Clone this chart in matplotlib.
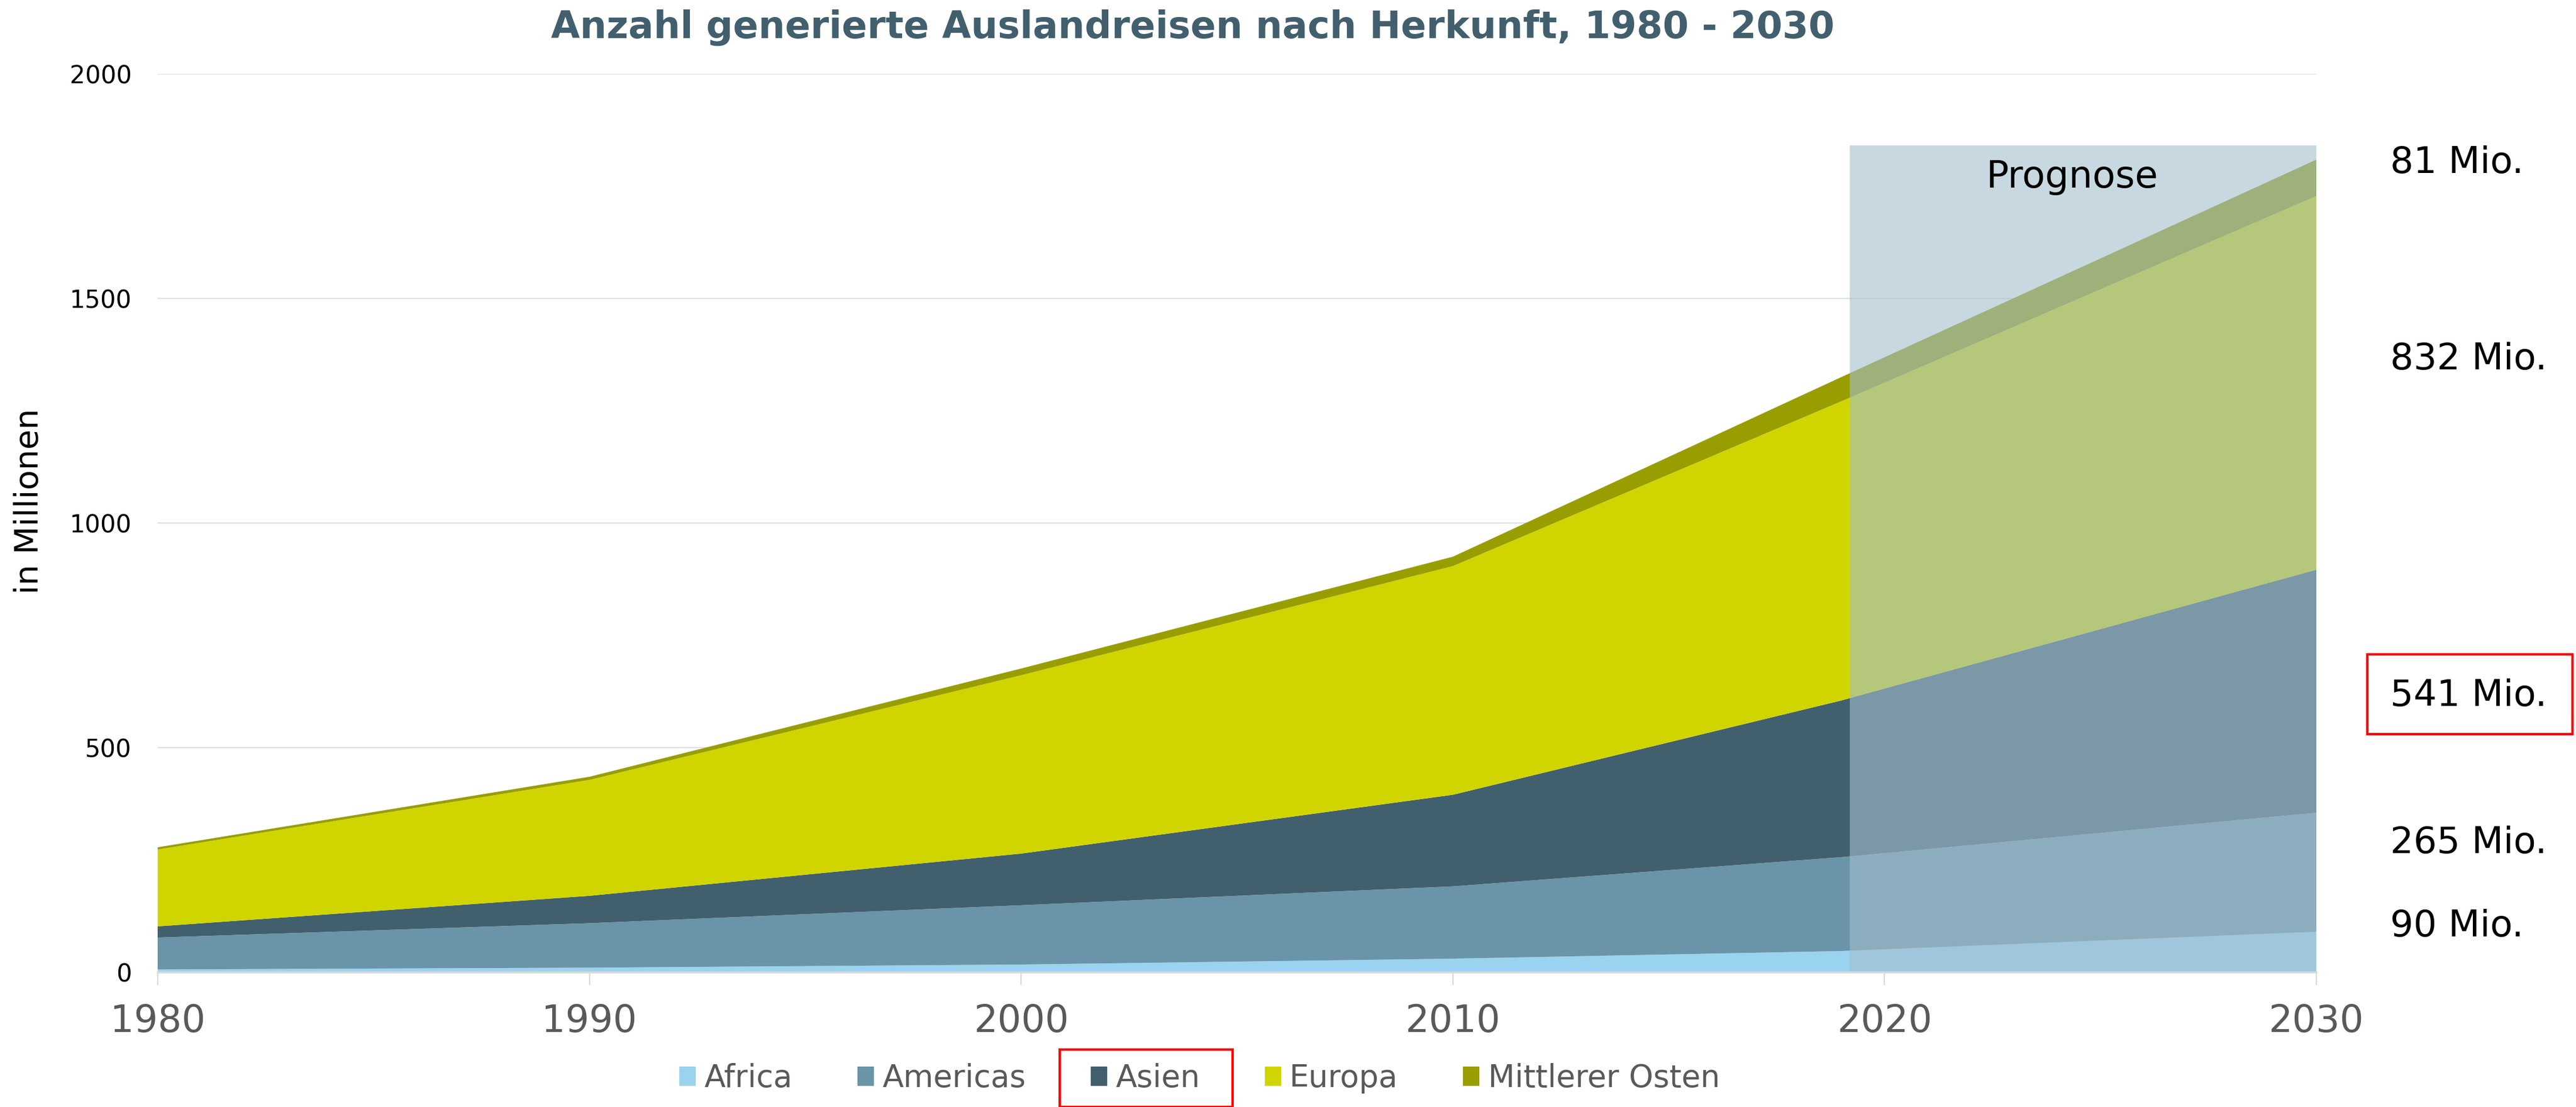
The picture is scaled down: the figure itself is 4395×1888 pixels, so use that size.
import numpy as np
import matplotlib
matplotlib.use("Agg")
import matplotlib.pyplot as plt
from matplotlib.patches import Rectangle, Patch

# data (millions of outbound trips)
years = [1980, 1990, 2000, 2010, 2019, 2030]
africa = [6, 10, 17, 30, 47, 90]
americas = [71, 99, 132, 161, 209, 265]
asien = [25, 61, 115, 204, 349, 541]
europa = [171, 258, 397, 509, 666, 832]
mittlerer_osten = [5, 7, 15, 21, 54, 81]

series_names = ["Africa", "Americas", "Asien", "Europa", "Mittlerer Osten"]
colors = ["#9ad3ef", "#6a94a8", "#425f6e", "#d0d500", "#999e00"]

# labels on the right (2030 values)
end_labels = ["81 Mio.", "832 Mio.", "541 Mio.", "265 Mio.", "90 Mio."]
end_label_y = [1801, 1364, 615, 287, 102]

prognose_start = 2019.2
prognose_top = 1840

title_col = "#425f6e"
grey_txt = "#595959"

fig = plt.figure(figsize=(43.95, 18.88), dpi=100)
ax = fig.add_axes([0.0612, 0.1218, 0.8380, 0.8115])

ax.stackplot(years, africa, americas, asien, europa, mittlerer_osten,
             colors=colors, linewidth=0, zorder=2)

# forecast shading
ax.add_patch(Rectangle((prognose_start, 0), 2030 - prognose_start, prognose_top,
                       facecolor="#a4becc", alpha=0.6, edgecolor="none", zorder=3))
ax.text(2024.35, 1770, "Prognose", fontsize=46,
        ha="center", va="center", color="black", zorder=4)

ax.set_xlim(1980, 2030)
ax.set_ylim(0, 2000)
ax.set_yticks([0, 500, 1000, 1500, 2000])
ax.set_xticks([1980, 1990, 2000, 2010, 2020, 2030])
ax.grid(axis="y", color="#e0e0e0", linewidth=1.5, zorder=0)
ax.set_axisbelow(True)

for s in ["top", "right", "left"]:
    ax.spines[s].set_visible(False)
ax.spines["bottom"].set_color("#d9d9d9")
ax.spines["bottom"].set_linewidth(2.5)
ax.spines["bottom"].set_zorder(5)

ax.tick_params(axis="y", length=0, labelsize=30, pad=32, labelcolor="black")
ax.tick_params(axis="x", length=16, width=1.5, color="#d9d9d9",
               labelsize=46, pad=22, labelcolor=grey_txt)

fig.text(50 / 4395, 0.547, "in Millionen", rotation=90, fontsize=40,
         ha="center", va="center")

fig.text(0.463, 0.975, "Anzahl generierte Auslandreisen nach Herkunft, 1980 - 2030",
         fontsize=46, fontweight="bold", color=title_col, ha="center", va="center")

# values at the right edge
for txt, yv in zip(end_labels, end_label_y):
    ax.text(1.0343, yv, txt, transform=ax.get_yaxis_transform(),
            fontsize=45, ha="left", va="center", clip_on=False)

# red box round "541 Mio."
fig.add_artist(Rectangle((4039 / 4395, 1 - 1252 / 1888), 350 / 4395, 136 / 1888,
                         transform=fig.transFigure, facecolor="none",
                         edgecolor="red", linewidth=3))

handles = [Patch(facecolor=c, edgecolor="none") for c in colors]
leg = fig.legend(handles, series_names, loc="center", bbox_to_anchor=(0.4657, 0.026),
                 ncol=5, frameon=False, fontsize=38, handlelength=0.53,
                 handleheight=0.57, handletextpad=0.27, columnspacing=2.1,
                 labelcolor=grey_txt)

# red box round the "Asien" legend entry
fig.canvas.draw()
r = fig.canvas.get_renderer()
tb = leg.get_texts()[2].get_window_extent(r)
hb = leg.legend_handles[2].get_window_extent(r)
x0 = hb.x0 - 53
x1 = tb.x1 + 56
yc = (tb.y0 + tb.y1) / 2
inv = fig.transFigure.inverted()
(fx0, fy0), (fx1, fy1) = inv.transform([(x0, yc - 49), (x1, yc + 49)])
fig.add_artist(Rectangle((fx0, fy0), fx1 - fx0, fy1 - fy0, transform=fig.transFigure,
                         facecolor="none", edgecolor="red", linewidth=3))

fig.savefig("out.png", dpi=100)
